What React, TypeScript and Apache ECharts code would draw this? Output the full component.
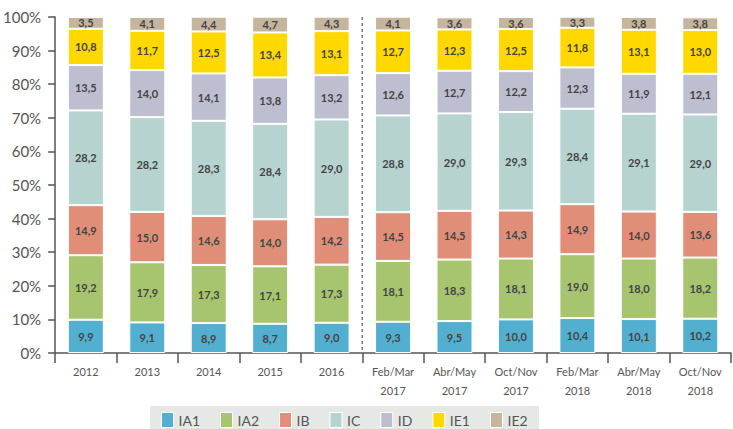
import React, { useEffect, useRef } from "react";
import * as echarts from "echarts";

const categories = [
  "2012", "2013", "2014", "2015", "2016",
  "Feb/Mar\n2017", "Abr/May\n2017", "Oct/Nov\n2017",
  "Feb/Mar\n2018", "Abr/May\n2018", "Oct/Nov\n2018",
];
const seriesNames = ["IA1", "IA2", "IB", "IC", "ID", "IE1", "IE2"];
const IA1 = [9.9, 9.1, 8.9, 8.7, 9.0, 9.3, 9.5, 10.0, 10.4, 10.1, 10.2];
const IA2 = [19.2, 17.9, 17.3, 17.1, 17.3, 18.1, 18.3, 18.1, 19.0, 18.0, 18.2];
const IB = [14.9, 15.0, 14.6, 14.0, 14.2, 14.5, 14.5, 14.3, 14.9, 14.0, 13.6];
const IC = [28.2, 28.2, 28.3, 28.4, 29.0, 28.8, 29.0, 29.3, 28.4, 29.1, 29.0];
const ID = [13.5, 14.0, 14.1, 13.8, 13.2, 12.6, 12.7, 12.2, 12.3, 11.9, 12.1];
const IE1 = [10.8, 11.7, 12.5, 13.4, 13.1, 12.7, 12.3, 12.5, 11.8, 13.1, 13.0];
const IE2 = [3.5, 4.1, 4.4, 4.7, 4.3, 4.1, 3.6, 3.6, 3.3, 3.8, 3.8];
const seriesData = [IA1, IA2, IB, IC, ID, IE1, IE2];
const colors = ["#52AFD0", "#A7C46F", "#E18E78", "#B6D3D0", "#BEBED1", "#FFD800", "#C5B59D"];
const yTicks = [0, 10, 20, 30, 40, 50, 60, 70, 80, 90, 100];

export default function App() {
  const ref = useRef<HTMLDivElement>(null);
  useEffect(() => {
    if (!ref.current) return;
    const chart = echarts.init(ref.current, null, { renderer: "svg" });
    const gridLeft = 55;
    const gridRight = 2;
    const gridTop = 17;
    const gridBottom = 76;
    const W = 733;
    const H = 429;
    const plotW = W - gridLeft - gridRight;
    const sepX = gridLeft + (5 * plotW) / categories.length;
    const font = "Lato, 'Open Sans', sans-serif";
    chart.setOption({
      animation: false,
      grid: { left: gridLeft, right: gridRight, top: gridTop, bottom: gridBottom },
      xAxis: {
        type: "category",
        data: categories,
        axisLine: { lineStyle: { color: "#555", width: 1.5 } },
        axisTick: { show: true, length: 10, lineStyle: { color: "#555", width: 1.5 } },
        axisLabel: { color: "#555", fontSize: 11, lineHeight: 19, margin: 9, fontFamily: font, interval: 0 },
      },
      yAxis: {
        type: "value",
        min: yTicks[0],
        max: yTicks[yTicks.length - 1],
        interval: 10,
        axisLine: { show: true, lineStyle: { color: "#555", width: 1.5 } },
        axisTick: { show: true, length: 7, lineStyle: { color: "#555", width: 1.5 } },
        axisLabel: { color: "#555", fontSize: 15, margin: 14, fontFamily: font, formatter: "{value}%" },
        splitLine: { show: false },
      },
      legend: {
        left: 161,
        top: 412,
        padding: 0,
        itemWidth: 12,
        itemHeight: 15,
        itemGap: 20,
        icon: "rect",
        itemStyle: { borderColor: "#fff", borderWidth: 1 },
        textStyle: { color: "#555", fontSize: 14, fontFamily: font },
        data: seriesNames,
      },
      graphic: [
        {
          type: "rect",
          z: -1,
          shape: { x: 150, y: 406, width: 389, height: 30 },
          style: { fill: "#E6E8E6" },
          silent: true,
        },
        {
          type: "line",
          shape: { x1: sepX, y1: gridTop, x2: sepX, y2: H - gridBottom },
          style: { stroke: "#777", lineWidth: 1.5, lineDash: [3, 3] },
          silent: true,
        },
      ],
      series: seriesNames.map((name, i) => ({
        name,
        type: "bar",
        stack: "total",
        barWidth: 36,
        data: seriesData[i],
        itemStyle: { color: colors[i], borderColor: "#fff", borderWidth: 1 },
        label: {
          show: true,
          position: "inside",
          color: "#444",
          fontSize: 11,
          fontWeight: "bold",
          fontFamily: font,
          formatter: (p: any) => Number(p.value).toFixed(1).replace(".", ","),
        },
      })),
    });
    return () => chart.dispose();
  }, []);
  return <div ref={ref} style={{ width: 733, height: 429, position: "absolute", left: 0, top: 0 }} />;
}
